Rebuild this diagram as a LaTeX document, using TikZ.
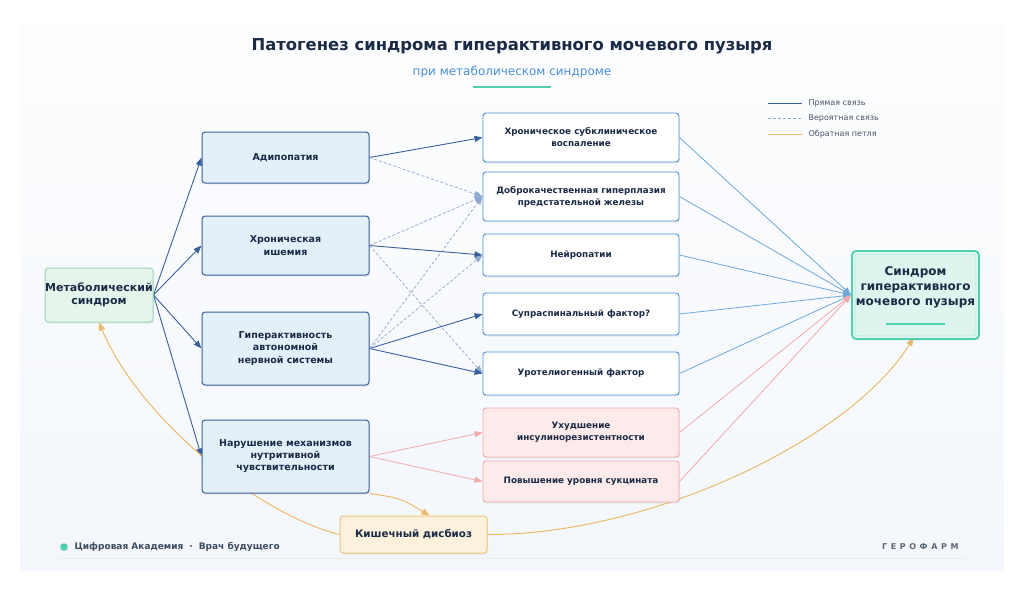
\documentclass[tikz,border=0pt]{standalone}
\usepackage{fontspec}
\setmainfont{DejaVu Sans}
\usetikzlibrary{arrows.meta,calc,shadows}
\definecolor{navy}{HTML}{1B2B45}
\definecolor{dblue}{HTML}{3A5F9E}
\definecolor{dashc}{HTML}{8FA8CF}
\definecolor{lblue}{HTML}{6FA8DC}
\definecolor{mblue}{HTML}{4A90D9}
\definecolor{pinkc}{HTML}{F2AAAA}
\definecolor{pinkf}{HTML}{FDEBEB}
\definecolor{orng}{HTML}{EDBA6A}
\definecolor{teal}{HTML}{4FD1B0}
\definecolor{lfill}{HTML}{E3F0FA}
\definecolor{gfill}{HTML}{E6F5EC}
\definecolor{gbord}{HTML}{9FD4B4}
\definecolor{ofill}{HTML}{DDF5EE}
\definecolor{yfill}{HTML}{FCF1DC}
\definecolor{ybord}{HTML}{F0C47C}
\definecolor{cardb}{HTML}{F3F7FC}
\definecolor{subc}{HTML}{4A90D9}
\definecolor{grayt}{HTML}{4A5568}
\pgfdeclarelayer{bg}
\pgfdeclarelayer{edges}
\pgfsetlayers{bg,edges,main}
\tikzset{
  base/.style={rounded corners=3pt, align=center, text=navy, font=\bfseries\fontsize{9.5}{13}\selectfont, inner sep=2pt,
    drop shadow={shadow xshift=1pt, shadow yshift=-1.5pt, opacity=0.12}},
  lbox/.style={base, draw=dblue, fill=lfill, line width=1pt, minimum width=167pt},
  rbox/.style={base, draw=mblue, fill=white, line width=0.9pt, minimum width=196pt, font=\bfseries\fontsize{8.8}{12}\selectfont},
  pbox/.style={rbox, draw=pinkc, fill=pinkf},
  solidarr/.style={draw=dblue, line width=0.9pt, -{Triangle[length=8pt,width=6pt]}},
  dasharr/.style={draw=dashc, line width=0.7pt, dash pattern=on 3pt off 2pt, -{Triangle[length=8pt,width=6pt]}},
  bluearr/.style={draw=lblue, line width=0.8pt, -{Triangle[length=8pt,width=6pt]}},
  pinkarr/.style={draw=pinkc, line width=0.8pt, -{Triangle[length=8pt,width=6pt]}},
  orarr/.style={draw=orng, line width=1pt, -{Triangle[length=8pt,width=6.5pt]}},
  legt/.style={anchor=west, font=\fontsize{8}{9}\selectfont, text=grayt},
}
\begin{document}
\begin{tikzpicture}[x=1pt,y=-1pt]
\useasboundingbox (0,0) rectangle (1024,590);
\begin{pgfonlayer}{bg}
\fill[white] (0,0) rectangle (1024,590);
\shade[top color=white!80!cardb, bottom color=cardb] (20,22) rectangle (1004,570);
\draw[draw=black!8, line width=0.6pt] (60,558) -- (965,558);
\end{pgfonlayer}

% title
\node (title) at (512,46) {\bfseries\fontsize{16.4}{19}\selectfont\color{navy}Патогенез синдрома гиперактивного мочевого пузыря};
\node (sub) at (512,72) {\fontsize{12}{14}\selectfont\color{subc}при метаболическом синдроме};
\draw[teal, line width=1.5pt] (473,87) coordinate (ul1) -- (551,87) coordinate (ul2);

% legend
\coordinate (lg1a) at (768,103); \coordinate (lg1b) at (802,103);
\coordinate (lg2a) at (768,118); \coordinate (lg2b) at (802,118);
\coordinate (lg3a) at (768,134); \coordinate (lg3b) at (802,134);
\draw[dblue, line width=1pt] (lg1a) -- (lg1b);
\draw[dashc, line width=1pt, dash pattern=on 3pt off 2pt] (lg2a) -- (lg2b);
\draw[orng, line width=1pt] (lg3a) -- (lg3b);
\node[legt] (lt1) at (805,103) {Прямая связь};
\node[legt] (lt2) at (805,118) {Вероятная связь};
\node[legt] (lt3) at (805,134) {Обратная петля};

% nodes
\node[base, draw=gbord, fill=gfill, line width=1pt, minimum width=108pt, minimum height=54pt, font=\bfseries\fontsize{11}{12.5}\selectfont, inner sep=0pt] (meta) at (99,295) {Метаболический\\синдром};
\node[lbox, minimum height=51pt] (adip) at (285.5,157.5) {Адипопатия};
\node[lbox, minimum height=59pt] (ish) at (285.5,245.5) {Хроническая\\ишемия};
\node[lbox, minimum height=73pt, font=\bfseries\fontsize{9.5}{12.5}\selectfont] (hyp) at (285.5,348.5) {Гиперактивность\\автономной\\нервной системы};
\node[lbox, minimum height=73pt, font=\bfseries\fontsize{9.5}{12}\selectfont] (nut) at (285.5,456.5) {Нарушение механизмов\\нутритивной\\чувствительности};

\node[rbox, minimum height=49pt] (r1) at (581,137.5) {Хроническое субклиническое\\воспаление};
\node[rbox, minimum height=49pt] (r2) at (581,196.5) {Доброкачественная гиперплазия\\предстательной железы};
\node[rbox, minimum height=42pt] (r3) at (581,255) {Нейропатии};
\node[rbox, minimum height=42pt] (r4) at (581,314) {Супраспинальный фактор?};
\node[rbox, minimum height=43pt] (r5) at (581,373.5) {Уротелиогенный фактор};
\node[pbox, minimum height=49pt] (r6) at (581,432.5) {Ухудшение\\инсулинорезистентности};
\node[pbox, minimum height=41pt] (r7) at (581,481.5) {Повышение уровня сукцината};

\node[base, draw=teal, fill=ofill, line width=1.8pt, minimum width=127pt, minimum height=88pt, rounded corners=4pt] (oab) at (915.5,295) {};
\draw[teal!45, line width=0.6pt, rounded corners=3pt] ($(oab.south west)+(4,-4)$) rectangle ($(oab.north east)+(-4,4)$);
\node[align=center, text=navy, font=\bfseries\fontsize{12}{15}\selectfont] (oabt) at (915.5,287) {Синдром\\гиперактивного\\мочевого пузыря};
\draw[teal, line width=1.5pt] (886,324) coordinate (ou1) -- (945,324) coordinate (ou2);

\node[base, draw=ybord, fill=yfill, line width=1pt, minimum width=147pt, minimum height=37pt, font=\bfseries\fontsize{10.3}{12}\selectfont] (gut) at (413.5,534.5) {Кишечный дисбиоз};

% footer
\fill[teal] (64,547) circle (3.8pt) coordinate (dot);
\node[anchor=west, font=\bfseries\fontsize{9}{10}\selectfont, text=navy!85] (ft) at (71,547) {Цифровая Академия\hspace{6pt}·\hspace{6pt}Врач будущего};
\node[anchor=east, font=\bfseries\fontsize{8}{10}\selectfont, text=grayt!90] (brand) at (962,547) {\addfontfeature{LetterSpace=45}ГЕРОФАРМ};

% edges
\begin{pgfonlayer}{edges}
\draw[solidarr] (meta.east) -- (adip.west);
\draw[solidarr] (meta.east) -- (ish.west);
\draw[solidarr] (meta.east) -- (hyp.west);
\draw[solidarr] (meta.east) -- (nut.west);

\draw[solidarr] (adip.east) -- (r1.west);
\draw[dasharr] (adip.east) -- (r2.west);
\draw[solidarr] (ish.east) -- (r3.west);
\draw[dasharr] (ish.east) -- (r2.west);
\draw[dasharr] (ish.east) -- (r5.west);
\draw[solidarr] (hyp.east) -- (r4.west);
\draw[solidarr] (hyp.east) -- (r5.west);
\draw[dasharr] (hyp.east) -- (r2.west);
\draw[dasharr] (hyp.east) -- (r3.west);
\draw[pinkarr] (nut.east) -- (r6.west);
\draw[pinkarr] (nut.east) -- (r7.west);

\draw[bluearr] (r1.east) -- (oab.west);
\draw[bluearr] (r2.east) -- (oab.west);
\draw[bluearr] (r3.east) -- (oab.west);
\draw[bluearr] (r4.east) -- (oab.west);
\draw[bluearr] (r5.east) -- (oab.west);
\draw[pinkarr] (r6.east) -- (oab.west);
\draw[pinkarr] (r7.east) -- (oab.west);

\draw[orarr] (gut.west) .. controls (260,515) and (140,420) .. (meta.south);
\draw[orarr] (nut.south east) .. controls (400,498) .. ($(gut.north)+(16,0)$);
\draw[orarr] (gut.east) .. controls (650,535) and (850,440) .. ($(oab.south)+(-2,-2)$);
\end{pgfonlayer}
\end{tikzpicture}
\end{document}
